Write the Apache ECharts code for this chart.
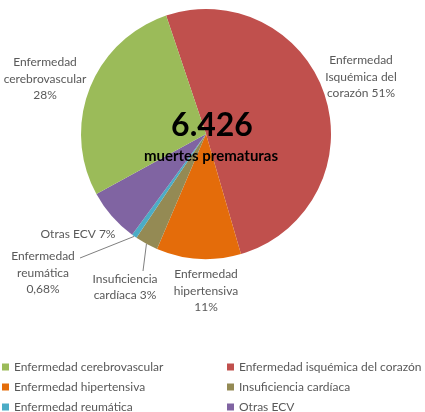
<!DOCTYPE html>
<html><head><meta charset="utf-8">
<script src="https://cdn.jsdelivr.net/npm/echarts@6/dist/echarts.min.js"></script>
<style>html,body{margin:0;padding:0;background:#fff}#c{width:425px;height:412px}</style>
</head><body><div id="c"></div>
<script>
const categories = ['Enfermedad isquémica del corazón','Enfermedad hipertensiva','Insuficiencia cardíaca','Enfermedad reumática','Otras ECV','Enfermedad cerebrovascular'];
const values = [51, 11, 3, 0.68, 7, 28];
const labelTexts = ['Enfermedad\nIsquémica del\ncorazón 51%','Enfermedad\nhipertensiva\n11%','Insuficiencia\ncardíaca 3%','Enfermedad\nreumática\n0,68%','Otras ECV 7%','Enfermedad\ncerebrovascular\n28%'];
const colors = ['#C0504D','#E46C0A','#948A54','#4BACC6','#8064A2','#9BBB59'];
const legendLeft = ['Enfermedad cerebrovascular','Enfermedad hipertensiva','Enfermedad reumática'];
const legendRight = ['Enfermedad isquémica del corazón','Insuficiencia cardíaca','Otras ECV'];
const totalText = '6.426';
const subText = 'muertes prematuras';

const labelPos = [[361,77],[206,291],[125,287],[43,273],[78,234],[45,79]];
const lineEnds = [null,null,[143,271],[80,258],null,null];

const chart = echarts.init(document.getElementById('c'));
const font = 'Lato, "Open Sans", sans-serif';
const legendText = {fontSize:12, color:'#595959', fontFamily:font, lineHeight:14};
chart.setOption({
  backgroundColor:'#fff',
  animation:false,
  color: colors,
  legend: [
    {orient:'vertical', left:2, top:360, padding:0, height:60, itemWidth:7, itemHeight:7, itemGap:6, icon:'rect', data:legendLeft, textStyle:legendText},
    {orient:'vertical', left:227, top:360, padding:0, height:60, itemWidth:7, itemHeight:7, itemGap:6, icon:'rect', data:legendRight, textStyle:legendText}
  ],
  graphic:[
    {type:'text', silent:true, z:100, x:212, y:126,
     style:{text:totalText, fontSize:32, fontWeight:'bold', fill:'#000', fontFamily:font, align:'center', verticalAlign:'middle'}},
    {type:'text', silent:true, z:100, x:211, y:156,
     style:{text:subText, fontSize:15, fontWeight:'bold', fill:'#000', fontFamily:font, align:'center', verticalAlign:'middle'}}
  ],
  series:[{
    type:'pie', center:[206,134], radius:125, startAngle:108.6, clockwise:true,
    avoidLabelOverlap:false,
    itemStyle:{borderColor:'#fff', borderWidth:0},
    label:{show:true, position:'outside', color:'#595959', fontSize:12, lineHeight:16.5, fontFamily:font, align:'center',
      formatter: p => labelTexts[p.dataIndex]},
    labelLine:{show:true, length:8, length2:20, lineStyle:{color:'#7f7f7f', width:1}},
    labelLayout: p => {
      const i = p.dataIndex;
      const r = {x:labelPos[i][0], y:labelPos[i][1], align:'center', verticalAlign:'middle'};
      if (lineEnds[i] && p.labelLinePoints) {
        const s = p.labelLinePoints[0];
        r.labelLinePoints = [s, lineEnds[i], lineEnds[i]];
      }
      return r;
    },
    data: categories.map((n,i)=>({name:n, value:values[i], labelLine:{show:!!lineEnds[i]}}))
  }]
});
</script></body></html>
